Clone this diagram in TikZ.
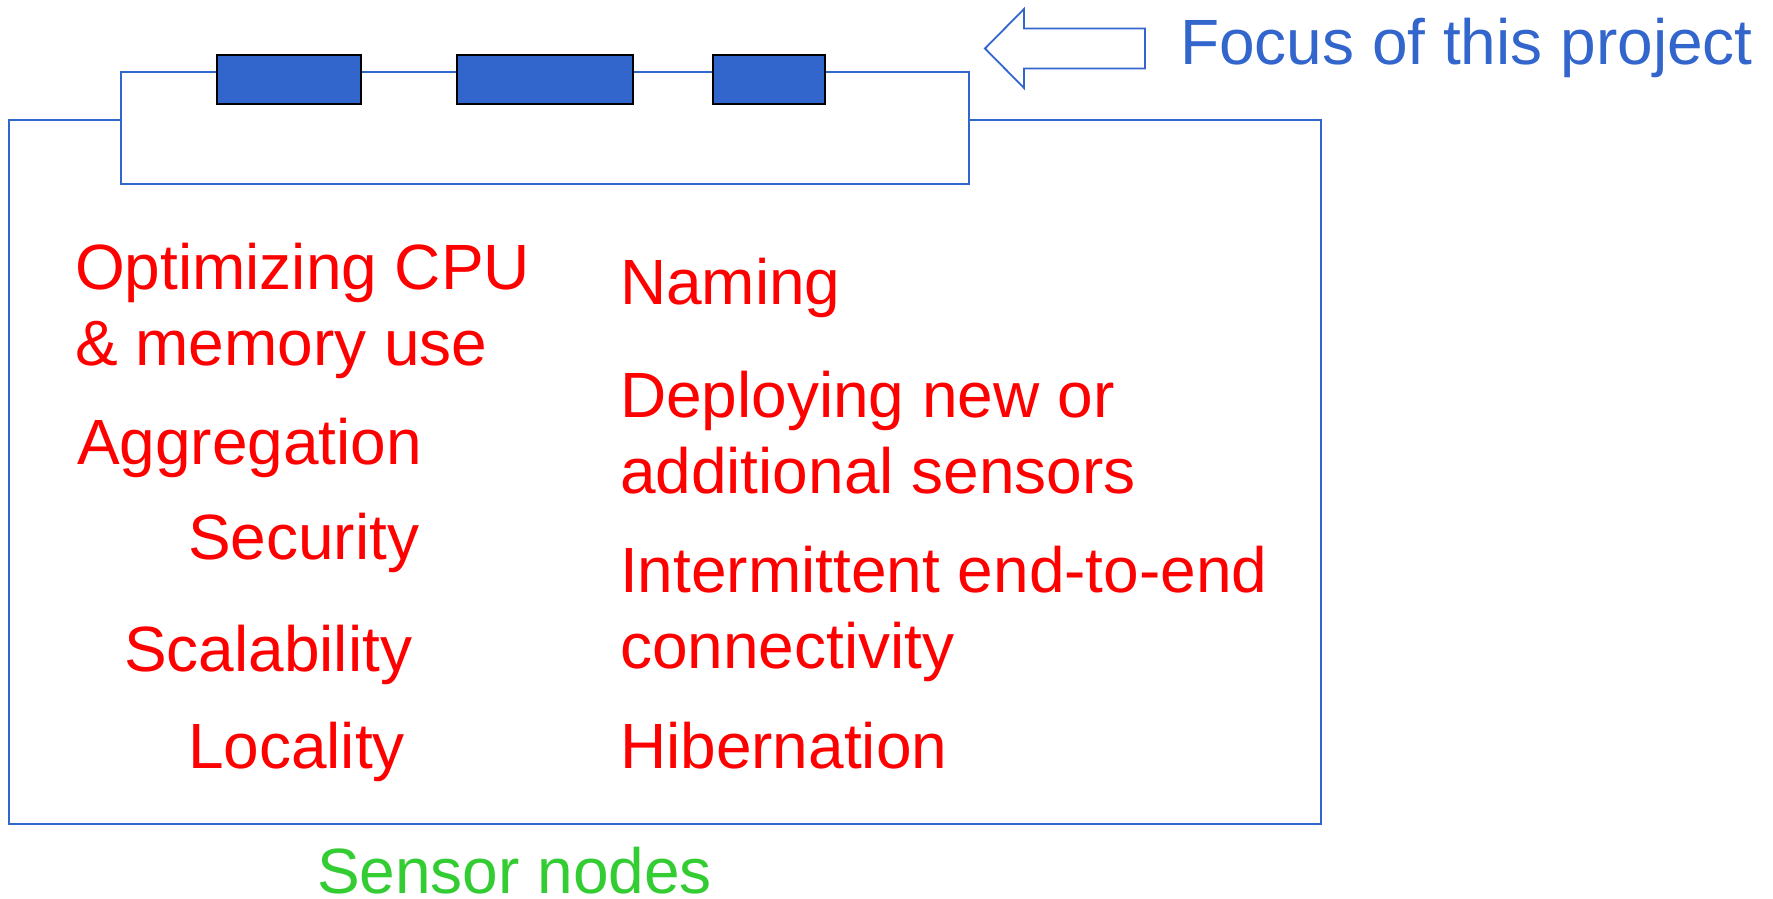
\documentclass[tikz,border=0pt]{standalone}
\usepackage{fontspec}
\setmainfont{Liberation Sans}
\definecolor{pblue}{HTML}{3366CC}
\definecolor{pred}{HTML}{FF0000}
\definecolor{pgreen}{HTML}{33CC33}
\begin{document}
\begin{tikzpicture}[x=0.5pt,y=-0.5pt,
  wire/.style={draw=pblue,line width=0.9pt},
  frame/.style={wire,rectangle,inner sep=0pt,outer sep=0pt},
  module/.style={rectangle,fill=pblue,draw=black,line width=1.2pt,inner sep=0pt,outer sep=0pt,minimum height=24.5pt},
  txt/.style={inner sep=0pt,outer sep=0pt,anchor=base west,align=left,font=\fontsize{32pt}{38.25pt}\selectfont},
  issue/.style={txt,text=pred}]
\useasboundingbox (0,0) rectangle (1773,899);
% outer sensor-node box
\node[frame,minimum width=656pt,minimum height=352pt] (outer) at (665,472) {};
% inner focus box
\node[frame,fill=white,minimum width=424pt,minimum height=56pt] (inner) at (545,128) {};
% modules on the top edge
\node[module,minimum width=72pt] (m1) at (289,79.5) {};
\node[module,minimum width=88pt] (m2) at (545,79.5) {};
\node[module,minimum width=56pt] (m3) at (769,79.5) {};
% hollow arrow
\coordinate (tip) at (985,48.5);
\draw[wire] (tip) -- (1024,9) -- (1024,28.5) -- (1145,28.5) -- (1145,68.5) -- (1024,68.5) -- (1024,88) -- cycle;
\node[txt,text=pblue] (focus) at (1180,65) {Focus of this project};
% left column (base anchor = baseline of last line)
\node[issue] (cpu) at (75,365.5) {Optimizing CPU\\\& memory use};
\node[issue] (agg) at (77,464) {Aggregation};
\node[issue] (sec) at (188,559) {Security};
\node[issue] (scal) at (124,671) {Scalability};
\node[issue] (loc) at (188,768) {Locality};
% right column
\node[issue] (nam) at (620,304) {Naming};
\node[issue] (dep) at (620,493.5) {Deploying new or\\additional sensors};
\node[issue] (int) at (620,668.5) {Intermittent end-to-end\\connectivity};
\node[issue] (hib) at (620,768) {Hibernation};
% caption
\node[txt,text=pgreen] (cap) at (317,893) {Sensor nodes};
\end{tikzpicture}
\end{document}
